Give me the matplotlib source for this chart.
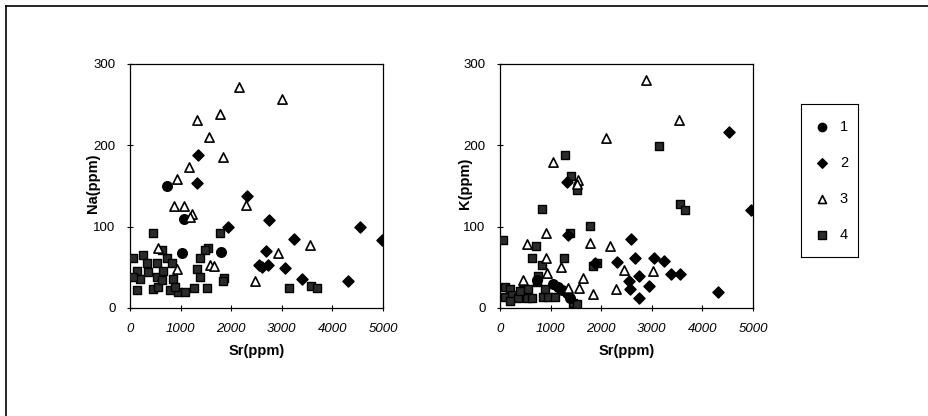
import matplotlib
matplotlib.use("Agg")
import matplotlib.pyplot as plt

plt.rcParams["font.family"] = ["Liberation Sans", "DejaVu Sans"]

# Sr vs Na (left panel)
na1_sr = [737, 1072, 1033, 1796]
na1 = [150, 109, 68, 69]
na2_sr = [1349, 1322, 2303, 1928, 2750, 3250, 2678, 2550, 2600, 2730, 3066, 3401, 4309, 4546, 4980]
na2 = [188, 154, 138, 100, 108, 85, 70, 53, 50, 53, 49, 36, 33, 99, 83]
na3_sr = [2158, 3013, 1776, 1329, 1566, 1842, 1171, 934, 875, 1066, 1217, 1184, 2289, 3553,
          2934, 2461, 1579, 1664, 559, 935]
na3 = [272, 257, 238, 231, 210, 186, 173, 158, 125, 126, 116, 112, 127, 78, 68, 33, 53, 52, 74, 48]
na4_sr = [461, 1776, 1546, 1480, 1382, 1329, 1382, 1263, 1526, 1862, 1842, 3145, 3586, 3704,
          132, 461, 559, 789, 954, 1086, 66, 263, 132, 197, 362, 526, 526, 658, 724, 822,
          855, 625, 66, 329, 625, 888]
na4 = [92, 92, 74, 71, 61, 48, 38, 25, 25, 37, 33, 25, 27, 25, 22, 23, 26, 22, 20, 20,
       61, 65, 46, 36, 44, 55, 38, 46, 61, 55, 36, 71, 38, 55, 34, 26]

# Sr vs K (right panel)
k1_sr = [1055, 1154, 1220, 1319, 1385, 726]
k1 = [30, 26, 22, 18, 12, 34]
k2_sr = [4518, 4960, 1332, 1351, 2592, 2672, 3047, 3245, 2309, 2553, 2573, 2751, 2738, 2949,
         3377, 3562, 4301, 1880]
k2 = [216, 121, 155, 90, 85, 62, 61, 58, 57, 33, 23, 39, 12, 27, 42, 42, 20, 55]
k3_sr = [2889, 3542, 2091, 1042, 1537, 1517, 904, 1781, 2177, 528, 904, 923, 1200, 1649,
         1563, 1352, 1834, 2289, 2454, 3021, 462]
k3 = [280, 231, 209, 179, 157, 153, 92, 80, 76, 79, 62, 43, 51, 37, 25, 25, 17, 23, 47, 45, 34]
k4_sr = [66, 1286, 1405, 1517, 838, 1781, 3133, 3549, 3661, 1266, 1385, 706, 627, 825, 745,
         726, 1847, 1913, 99, 198, 99, 231, 363, 462, 528, 627, 858, 956, 1088, 890, 1451,
         1530, 198, 396, 561]
k4 = [83, 188, 162, 145, 122, 101, 199, 128, 120, 61, 92, 76, 62, 53, 39, 32, 52, 55, 26,
      23, 14, 16, 12, 22, 12, 12, 14, 14, 14, 23, 6, 5, 9, 21, 23]

groups = ["1", "2", "3", "4"]
x_ticks = [0, 1000, 2000, 3000, 4000, 5000]
y_ticks = [0, 100, 200, 300]

styles = {
    "1": dict(marker="o", s=48, facecolor="black", edgecolor="black"),
    "2": dict(marker="D", s=32, facecolor="black", edgecolor="black"),
    "3": dict(marker="^", s=44, facecolor="white", edgecolor="black", linewidths=1.2),
    "4": dict(marker="s", s=40, facecolor="#2b2b2b", edgecolor="black"),
}

W, H = 929, 416
fig = plt.figure(figsize=(W / 100, H / 100), dpi=100)

# scanned page frame
fig.add_artist(plt.Line2D([6 / W, 6 / W], [0, 1 - 6 / H], color="black", lw=1.2))
fig.add_artist(plt.Line2D([6 / W, 1], [1 - 6 / H, 1 - 6 / H], color="black", lw=1.2))


def panel(left, ylabel, data, lab_x):
    ax = fig.add_axes([left / W, 1 - 308 / H, 253 / W, 244 / H])
    for g in ["4", "1", "2", "3"]:
        xs, ys = data[g]
        ax.scatter(xs, ys, zorder=3, **styles[g])
    ax.set_xlim(0, 5000)
    ax.set_ylim(0, 300)
    ax.set_xticks(x_ticks)
    ax.set_yticks(y_ticks)
    ax.set_xticklabels([str(t) for t in x_ticks], fontstyle="italic", fontsize=9.5)
    ax.set_yticklabels([str(t) for t in y_ticks], fontsize=9.5)
    ax.tick_params(direction="inout", length=5, width=0.8, pad=8)
    for sp in ax.spines.values():
        sp.set_linewidth(0.9)
    ax.set_xlabel("Sr(ppm)", fontweight="bold", fontsize=10.5, labelpad=7)
    ax.set_ylabel(ylabel, fontweight="bold", fontsize=10.5)
    ax.yaxis.set_label_coords(lab_x, 0.51)
    return ax


panel(130, "Na(ppm)", {"1": (na1_sr, na1), "2": (na2_sr, na2),
                       "3": (na3_sr, na3), "4": (na4_sr, na4)}, -0.12)
panel(500, "K(ppm)", {"1": (k1_sr, k1), "2": (k2_sr, k2),
                      "3": (k3_sr, k3), "4": (k4_sr, k4)}, -0.11)

# legend box
lg = fig.add_axes([801 / W, 1 - 257 / H, 57 / W, 153 / H])
lg.set_xlim(0, 1)
lg.set_ylim(0, 1)
lg.set_xticks([])
lg.set_yticks([])
leg_y = [0.85, 0.614, 0.379, 0.144]
for g, yy in zip(groups, leg_y):
    st = dict(styles[g])
    st["s"] = st["s"] * 0.75
    lg.scatter([0.37], [yy], **st)
    lg.text(0.68, yy, g, va="center", ha="left", fontsize=10.5)

fig.savefig("out.png", dpi=100)
